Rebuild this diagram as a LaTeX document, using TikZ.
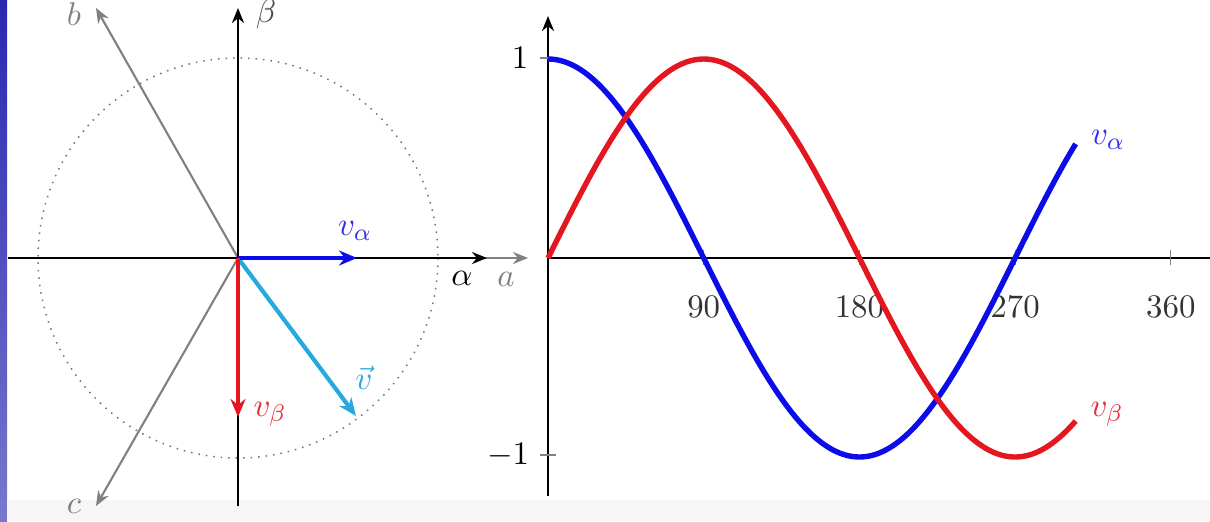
\documentclass[tikz,border=0pt]{standalone}
\usepackage{amsmath,amssymb}
\usepackage{xcolor}
\usepackage{tikz}
\usetikzlibrary{calc,arrows.meta,positioning}
\definecolor{vaBlue}{RGB}{12,12,235}
\definecolor{vbRed}{RGB}{228,22,32}
\definecolor{vecCyan}{RGB}{38,170,222}
\definecolor{phGray}{RGB}{128,128,128}
\definecolor{slideTop}{RGB}{40,40,178}
\definecolor{slideBot}{RGB}{120,120,205}

\begin{document}
\begin{tikzpicture}[x=0.3333pt, y=-0.3333pt,
  every node/.style={font=\fontsize{11.3}{13}\selectfont},
  axisline/.style={black, line width=0.9pt},
  axisarrow/.style={axisline, -{Stealth[length=5pt,width=4pt]}},
  phase/.style={phGray, line width=0.7pt, -{Stealth[length=5pt,width=4pt]}},
  comp/.style={line width=1.4pt, -{Stealth[length=6pt,width=5pt]}},
  wave/.style={line width=1.8pt, smooth, samples=160},
  tickmark/.style={phGray, line width=0.4pt}]
\useasboundingbox (0,0) rectangle (1210,521);
% slide border
\shade[top color=slideTop, bottom color=slideBot] (0,0) rectangle (7,521);
\fill[gray!7] (7,500) rectangle (1210,521);

% --- left: space vector diagram ---
\coordinate (O) at (238,258);
\coordinate (alphaL) at (8,258);
\coordinate (alphaR) at (487,258);
\coordinate (betaD) at (238,506);
\coordinate (betaU) at (238,8);
\coordinate (tipA) at (528,258);
\coordinate (tipB) at (96,8);
\coordinate (tipC) at (96,506);
\coordinate (tipVa) at (357,258);
\coordinate (tipVb) at (238,417);
\coordinate (tipV) at (356,416);

\draw[black!55, dotted, line width=0.5pt] (O) circle[radius=200];
\draw[phase] (O) -- (tipA);
\draw[phase] (O) -- (tipB);
\draw[phase] (O) -- (tipC);
\draw[axisarrow] (alphaL) -- (alphaR);
\draw[axisarrow] (betaD) -- (betaU);

\draw[comp, vecCyan] (O) -- (tipV);
\draw[comp, vaBlue] (O) -- (tipVa);
\draw[comp, vbRed] (O) -- (tipVb);

\node[text=phGray] (labA) at (506,279) {$a$};
\node[text=phGray] (labB) at (74,14) {$b$};
\node[text=phGray] (labC) at (74,506) {$c$};
\node (labAlpha) at (462,278) {$\alpha$};
\node[text=black!70] (labBeta) at (266,14) {$\beta$};
\node[text=vaBlue!85] (labVa) at (355,231) {$v_\alpha$};
\node[text=vbRed!90] (labVb) at (270,414) {$v_\beta$};
\node[text=vecCyan] (labV) at (364,378) {$\vec{v}$};

% --- right: waveforms ---
\coordinate (P) at (548,258);
\coordinate (tEnd) at (1210,258);
\coordinate (yD) at (548,496);
\coordinate (yU) at (548,16);
\draw[axisline] (P) -- (tEnd);
\draw[axisarrow] (yD) -- (yU);

\foreach \d in {90,180,270,360}
  \draw[tickmark] ({548+1.73*\d},250) -- ++(0,15)
    node[text=black!80, below=7pt] (t\d) {$\d$};
\draw[tickmark] (540,58) -- (556,58);
\draw[tickmark] (540,455) -- (556,455);
\node (yOne) at (520,58) {$1$};
\node (yMinus) at (508,455) {$-1$};

\draw[wave, vaBlue] plot[domain=0:305] ({548+1.73*\x},{258-199*cos(\x)});
\draw[wave, vbRed] plot[domain=0:305] ({548+1.73*\x},{258-199*sin(\x)});
\node[text=vaBlue!85] (curveA) at (1108,140) {$v_\alpha$};
\node[text=vbRed!90] (curveB) at (1107,414) {$v_\beta$};
\end{tikzpicture}
\end{document}
